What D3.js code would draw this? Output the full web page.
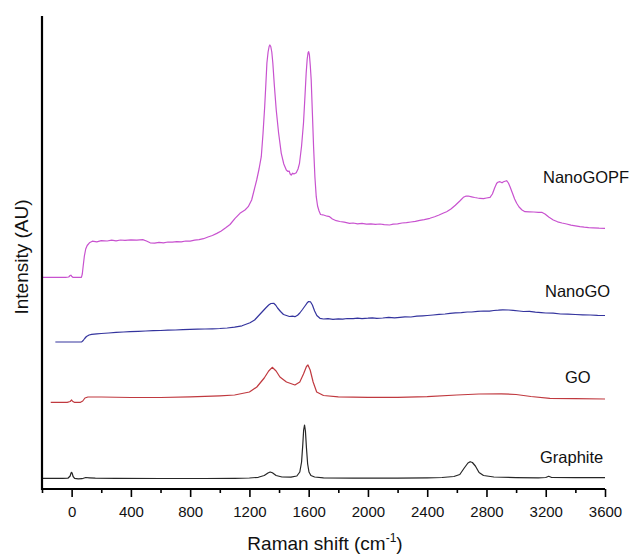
<!DOCTYPE html>
<html>
<head>
<meta charset="utf-8">
<script src="https://cdn.jsdelivr.net/npm/d3@7/dist/d3.min.js"></script>
<style>
  html, body { margin: 0; padding: 0; background: #fff; }
  svg { display: block; font-family: "Liberation Sans", Arial, sans-serif; }
</style>
</head>
<body>
<svg id="chart" width="633" height="555"></svg>
<script>
// Raman spectra, stacked with a vertical offset (values already include the offset)
const xMajorTicks = [0, 400, 800, 1200, 1600, 2000, 2400, 2800, 3200, 3600];
const xMinorTicks = [-200, 200, 600, 1000, 1400, 1800, 2200, 2600, 3000, 3400];

const seriesNames = ["Graphite", "GO", "NanoGO", "NanoGOPF"];
const seriesColors = ["#262626", "#c0393f", "#34349e", "#c852cf"];

const graphite = [
  [-200,107],[-60,107],[-25,108],[-10,130],[-4,160],[0,167],[4,155],[10,125],[20,107],
  [45,102],[70,103],[95,115],[120,112],[160,108],[300,106],[600,105],[900,105],
  [1100,107],[1200,110],[1260,117],[1300,135],[1325,160],[1340,170],[1355,162],
  [1380,135],[1420,120],[1480,118],[1520,130],[1540,170],[1552,270],[1560,440],
  [1566,590],[1572,640],[1578,580],[1585,410],[1593,250],[1602,170],[1615,135],
  [1640,120],[1700,112],[1900,108],[2200,108],[2400,112],[2500,115],[2580,125],
  [2620,145],[2650,210],[2675,260],[2690,273],[2705,265],[2725,230],[2750,165],
  [2780,135],[2850,120],[3000,114],[3150,112],[3200,115],[3220,127],[3240,115],
  [3400,113],[3600,113]
];

const go = [
  [-141,867],[-30,867],[-10,875],[0,890],[8,875],[18,867],[60,867],[75,880],[90,910],
  [110,920],[200,920],[400,915],[600,915],[800,922],[1000,932],[1100,940],[1200,970],
  [1250,1020],[1300,1110],[1330,1180],[1354,1217],[1380,1180],[1406,1120],[1450,1070],
  [1507,1040],[1540,1070],[1565,1150],[1585,1225],[1595,1240],[1610,1190],[1630,1070],
  [1654,970],[1700,935],[1800,922],[2000,917],[2200,917],[2400,923],[2600,940],
  [2750,950],[2900,952],[3000,945],[3100,925],[3228,907],[3400,903],[3600,900]
];

const nanoGO = [
  [-110,1470],[0,1470],[40,1470],[68,1471],[78,1485],[88,1505],[100,1525],[118,1540],
  [135,1547],[170,1552],[200,1555],[250,1560],[300,1566],[350,1570],[394,1573],
  [450,1576],[500,1580],[550,1583],[600,1585],[650,1588],[700,1590],[750,1594],
  [800,1596],[850,1598],[900,1600],[950,1602],[1000,1605],[1050,1610],[1100,1618],
  [1150,1632],[1204,1663],[1235,1690],[1260,1730],[1285,1770],[1310,1810],[1330,1840],
  [1345,1855],[1364,1857],[1378,1838],[1390,1810],[1410,1775],[1430,1745],[1450,1735],
  [1470,1725],[1490,1728],[1507,1723],[1525,1738],[1540,1760],[1558,1795],[1575,1830],
  [1590,1862],[1600,1875],[1612,1872],[1625,1840],[1640,1780],[1655,1735],[1676,1707],
  [1700,1700],[1730,1704],[1764,1697],[1800,1702],[1830,1698],[1860,1705],[1900,1703],
  [1930,1708],[1960,1704],[2000,1708],[2030,1712],[2060,1707],[2100,1710],[2140,1716],
  [2180,1712],[2216,1717],[2250,1722],[2290,1720],[2330,1728],[2370,1732],[2400,1735],
  [2440,1740],[2480,1746],[2520,1750],[2554,1757],[2590,1762],[2630,1764],[2670,1770],
  [2700,1770],[2740,1776],[2780,1780],[2820,1778],[2850,1785],[2880,1788],[2910,1792],
  [2950,1790],[2980,1786],[3020,1780],[3050,1775],[3090,1776],[3130,1768],[3170,1764],
  [3200,1760],[3250,1758],[3300,1750],[3350,1748],[3400,1745],[3450,1742],[3500,1740],
  [3550,1736],[3600,1735]
];

const nanoGOPF = [
  [-200,2117],[-40,2117],[-20,2120],[-10,2135],[-5,2138],[0,2128],[8,2117],[40,2116],
  [66,2117],[72,2150],[78,2230],[86,2330],[95,2400],[105,2435],[120,2462],[140,2478],
  [170,2472],[200,2484],[240,2480],[270,2488],[300,2482],[330,2490],[360,2486],
  [400,2492],[440,2488],[480,2494],[505,2480],[530,2462],[560,2458],[590,2466],
  [620,2462],[650,2470],[680,2468],[710,2474],[740,2472],[770,2480],[800,2478],
  [830,2488],[860,2494],[890,2503],[920,2520],[950,2535],[980,2556],[1010,2580],
  [1040,2612],[1069,2645],[1103,2707],[1136,2757],[1170,2790],[1192,2823],[1215,2890],
  [1249,3090],[1265,3200],[1280,3323],[1292,3560],[1303,3823],[1311,4050],[1318,4260],
  [1326,4370],[1333,4425],[1338,4440],[1344,4425],[1351,4370],[1358,4260],[1368,4040],
  [1381,3790],[1397,3560],[1415,3357],[1432,3250],[1449,3190],[1460,3175],[1468,3180],
  [1475,3150],[1482,3140],[1492,3158],[1500,3150],[1516,3163],[1528,3200],[1538,3257],
  [1552,3430],[1565,3660],[1575,3930],[1583,4157],[1590,4300],[1596,4365],[1600,4373],
  [1605,4340],[1611,4230],[1617,4090],[1625,3760],[1633,3423],[1642,3120],[1651,2923],
  [1660,2830],[1670,2780],[1680,2745],[1695,2742],[1710,2735],[1725,2728],[1741,2723],
  [1760,2700],[1786,2683],[1810,2675],[1840,2668],[1876,2657],[1900,2660],[1930,2652],
  [1960,2656],[1990,2648],[2020,2652],[2050,2646],[2081,2650],[2110,2643],[2146,2640],
  [2170,2648],[2200,2652],[2230,2660],[2260,2664],[2290,2670],[2320,2676],[2350,2686],
  [2380,2694],[2418,2707],[2450,2722],[2480,2740],[2510,2760],[2531,2773],[2560,2800],
  [2590,2838],[2620,2880],[2644,2917],[2660,2928],[2677,2930],[2700,2922],[2720,2915],
  [2740,2910],[2756,2907],[2780,2903],[2800,2910],[2824,2917],[2840,2950],[2855,3010],
  [2869,3057],[2880,3070],[2891,3073],[2905,3062],[2915,3072],[2925,3078],[2936,3083],
  [2948,3060],[2959,3023],[2975,2960],[2990,2900],[3004,2857],[3020,2820],[3040,2790],
  [3060,2773],[3090,2772],[3120,2770],[3150,2766],[3173,2767],[3195,2750],[3220,2720],
  [3251,2690],[3280,2672],[3310,2660],[3341,2650],[3370,2638],[3400,2632],[3431,2623],
  [3460,2618],[3490,2614],[3520,2612],[3560,2608],[3600,2607]
];

const spectra = [graphite, go, nanoGO, nanoGOPF];

const svg = d3.select("#chart");
const plotLeft = 42, plotRight = 605, plotTop = 16, plotBottom = 489;

const x = d3.scaleLinear().domain([-200, 3600]).range([plotLeft, plotRight]);
const y = d3.scaleLinear().domain([0, 4730]).range([plotBottom, plotTop]);

// spectra
const line = d3.line().x(d => x(d[0])).y(d => y(d[1])).curve(d3.curveLinear);
svg.append("g").selectAll("path")
  .data(spectra)
  .join("path")
  .attr("d", line)
  .attr("fill", "none")
  .attr("stroke", (d, i) => seriesColors[i])
  .attr("stroke-width", 1.2)
  .attr("stroke-linejoin", "round");

// bottom axis: major ticks with labels, minor ticks without
const xAxis = d3.axisBottom(x).tickValues(xMajorTicks).tickSize(8).tickPadding(9)
  .tickFormat(d3.format("d"));
const gx = svg.append("g").attr("transform", `translate(0,${plotBottom})`).call(xAxis);
gx.select(".domain").remove();
gx.selectAll(".tick line").attr("stroke", "#000").attr("stroke-width", 1.6);
gx.selectAll(".tick text").attr("font-size", 15).attr("fill", "#111")
  .attr("font-family", "'Liberation Sans', Arial, sans-serif");

const gxm = svg.append("g").attr("transform", `translate(0,${plotBottom})`)
  .call(d3.axisBottom(x).tickValues(xMinorTicks).tickSize(4).tickFormat(""));
gxm.select(".domain").remove();
gxm.selectAll(".tick line").attr("stroke", "#000").attr("stroke-width", 1.6);

// axis lines
svg.append("line").attr("x1", plotLeft).attr("x2", plotRight)
  .attr("y1", plotBottom).attr("y2", plotBottom)
  .attr("stroke", "#000").attr("stroke-width", 2.2);
svg.append("line").attr("x1", plotLeft).attr("x2", plotLeft)
  .attr("y1", plotTop).attr("y2", plotBottom + 1)
  .attr("stroke", "#000").attr("stroke-width", 2.2);

// axis titles
const xTitle = svg.append("text")
  .attr("x", 325).attr("y", 550)
  .attr("text-anchor", "middle").attr("font-size", 19).attr("fill", "#111");
xTitle.append("tspan").text("Raman shift (cm");
xTitle.append("tspan").attr("dy", -8).attr("font-size", 12).text("-1");
xTitle.append("tspan").attr("dy", 8).text(")");

svg.append("text")
  .attr("transform", "translate(28,257) rotate(-90)")
  .attr("text-anchor", "middle").attr("font-size", 19).attr("fill", "#111")
  .text("Intensity (AU)");

// series labels beside the right end of each trace
const labelPos = [
  { x: 540, y: 463 },
  { x: 565, y: 383 },
  { x: 545, y: 297 },
  { x: 543, y: 183 }
];
svg.append("g").selectAll("text")
  .data(seriesNames)
  .join("text")
  .attr("x", (d, i) => labelPos[i].x)
  .attr("y", (d, i) => labelPos[i].y)
  .attr("font-size", 16.5).attr("fill", "#111")
  .text(d => d);
</script>
</body>
</html>
